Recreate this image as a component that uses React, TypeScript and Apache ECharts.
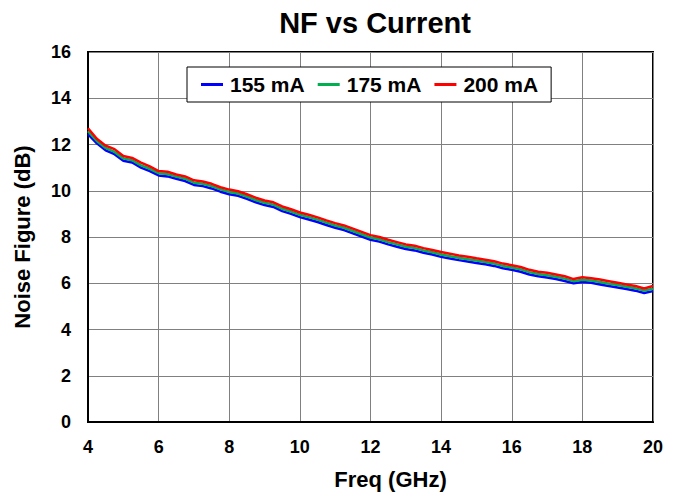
import React, { useEffect, useRef } from "react";
import * as echarts from "echarts";

const freqGHz = [
  4.0, 4.25, 4.5, 4.75, 5.0, 5.25, 5.5, 5.75, 6.0, 6.25, 6.5, 6.75, 7.0, 7.25, 7.5, 7.75,
  8.0, 8.25, 8.5, 8.75, 9.0, 9.25, 9.5, 9.75, 10.0, 10.25, 10.5, 10.75, 11.0, 11.25, 11.5, 11.75,
  12.0, 12.25, 12.5, 12.75, 13.0, 13.25, 13.5, 13.75, 14.0, 14.25, 14.5, 14.75, 15.0, 15.25, 15.5, 15.75,
  16.0, 16.25, 16.5, 16.75, 17.0, 17.25, 17.5, 17.75, 18.0, 18.25, 18.5, 18.75, 19.0, 19.25, 19.5, 19.75,
  20.0,
];

const nf155 = [
  12.45, 12.05, 11.75, 11.58, 11.3, 11.22, 11.0, 10.85, 10.66, 10.62, 10.52, 10.42, 10.25, 10.2, 10.1, 9.96,
  9.85, 9.78, 9.65, 9.5, 9.38, 9.3, 9.12, 9.0, 8.86, 8.76, 8.65, 8.52, 8.4, 8.3, 8.16, 8.02,
  7.88, 7.8, 7.68, 7.58, 7.48, 7.42, 7.32, 7.24, 7.14, 7.07, 7.0, 6.94, 6.88, 6.82, 6.75, 6.65,
  6.58, 6.5, 6.38, 6.3, 6.25, 6.18, 6.1, 6.0, 6.05, 6.02, 5.95, 5.88, 5.82, 5.75, 5.68, 5.58,
  5.66,
];

const nf175 = [
  12.58, 12.15, 11.85, 11.68, 11.4, 11.32, 11.1, 10.95, 10.76, 10.72, 10.61, 10.52, 10.35, 10.3, 10.2, 10.06,
  9.95, 9.88, 9.75, 9.6, 9.48, 9.4, 9.22, 9.1, 8.96, 8.86, 8.75, 8.62, 8.5, 8.4, 8.26, 8.12,
  7.98, 7.9, 7.78, 7.68, 7.58, 7.52, 7.42, 7.34, 7.24, 7.17, 7.1, 7.04, 6.98, 6.92, 6.85, 6.75,
  6.68, 6.6, 6.48, 6.4, 6.35, 6.28, 6.2, 6.09, 6.15, 6.12, 6.05, 5.98, 5.92, 5.85, 5.78, 5.68,
  5.76,
];

const nf200 = [
  12.7, 12.25, 11.95, 11.8, 11.5, 11.42, 11.22, 11.05, 10.85, 10.82, 10.7, 10.62, 10.45, 10.4, 10.3, 10.15,
  10.05, 9.98, 9.85, 9.7, 9.58, 9.5, 9.32, 9.2, 9.06, 8.96, 8.85, 8.72, 8.6, 8.5, 8.36, 8.22,
  8.08, 8.0, 7.88, 7.78, 7.68, 7.62, 7.52, 7.44, 7.35, 7.28, 7.2, 7.15, 7.08, 7.02, 6.95, 6.85,
  6.78, 6.7, 6.58, 6.5, 6.45, 6.38, 6.3, 6.18, 6.26, 6.22, 6.16, 6.09, 6.02, 5.95, 5.88, 5.77,
  5.88,
];

const seriesNames = ["155 mA", "175 mA", "200 mA"];
const seriesColors = ["#0000FF", "#00B050", "#FF0000"];
const seriesValues = [nf155, nf175, nf200];

const FONT = "'Liberation Sans', Arial, sans-serif";

export default function App() {
  const ref = useRef<HTMLDivElement>(null);

  useEffect(() => {
    document.body.style.margin = "0";
    if (!ref.current) return;
    const chart = echarts.init(ref.current, null, { renderer: "svg" });
    chart.setOption({
      animation: false,
      backgroundColor: "#fff",
      textStyle: { fontFamily: FONT, color: "#000" },
      title: {
        text: "NF vs Current",
        left: 370,
        textAlign: "center",
        top: 3,
        textStyle: { fontFamily: FONT, fontSize: 29, fontWeight: "bold", color: "#000" },
      },
      legend: {
        left: 187,
        top: 67,
        padding: [7, 13, 7, 14],
        backgroundColor: "#fff",
        borderColor: "#000",
        borderWidth: 1,
        itemGap: 13,
        itemWidth: 22,
        itemHeight: 3,
        icon: "rect",
        data: seriesNames,
        textStyle: { fontFamily: FONT, fontSize: 21, fontWeight: "bold", color: "#000", padding: [0, 0, 0, 2] },
      },
      grid: {
        left: 88,
        right: 26,
        top: 52,
        bottom: 71,
        show: true,
        borderColor: "#000",
        borderWidth: 2,
        backgroundColor: "transparent",
      },
      xAxis: {
        type: "value",
        min: 4,
        max: 20,
        interval: 2,
        name: "Freq (GHz)",
        nameLocation: "middle",
        nameGap: 46,
        nameTextStyle: { fontFamily: FONT, fontSize: 22, fontWeight: "bold", color: "#000", padding: [0, 0, 0, 40] },
        axisLine: { show: true, lineStyle: { color: "#000", width: 2 } },
        axisTick: { show: false },
        axisLabel: { margin: 16, fontFamily: FONT, fontSize: 18, fontWeight: "bold", color: "#000" },
        splitLine: { show: true, lineStyle: { color: "#808080", width: 1 } },
      },
      yAxis: {
        type: "value",
        min: 0,
        max: 16,
        interval: 2,
        name: "Noise Figure (dB)",
        nameLocation: "middle",
        nameRotate: 90,
        nameGap: 55,
        nameTextStyle: { fontFamily: FONT, fontSize: 22, fontWeight: "bold", color: "#000" },
        axisLine: { show: true, lineStyle: { color: "#000", width: 2 } },
        axisTick: { show: false },
        axisLabel: { margin: 17, fontFamily: FONT, fontSize: 18, fontWeight: "bold", color: "#000" },
        splitLine: { show: true, lineStyle: { color: "#808080", width: 1 } },
      },
      series: seriesNames.map((name, i) => ({
        name,
        type: "line",
        showSymbol: false,
        symbol: "none",
        color: seriesColors[i],
        lineStyle: { color: seriesColors[i], width: 2.5 },
        data: freqGHz.map((f, j) => [f, seriesValues[i][j]]),
        z: 3 + i,
      })),
    });
    return () => chart.dispose();
  }, []);

  return <div ref={ref} style={{ width: 679, height: 495 }} />;
}
